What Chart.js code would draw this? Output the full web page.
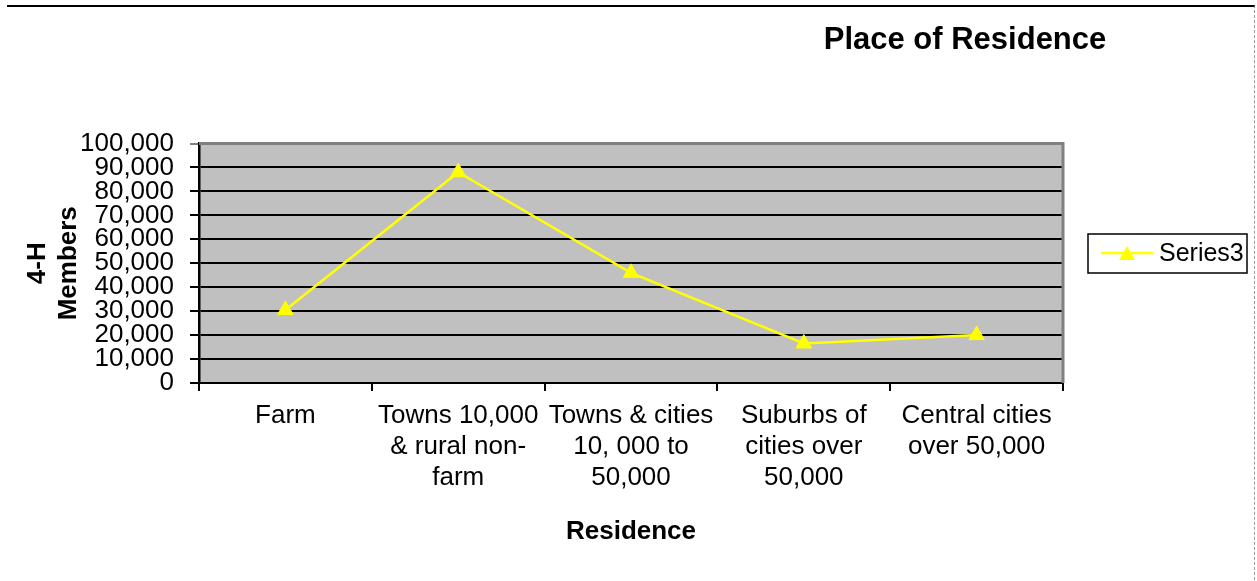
<!DOCTYPE html>
<html lang="en">
<head>
  <meta charset="UTF-8">
  <title>Place of Residence</title>
  <style>
    html, body { margin: 0; padding: 0; background: #fff; overflow: hidden; }
    .wrap { position: relative; width: 1257px; height: 581px; }
    .frame {
      position: absolute; left: 7px; top: 5px; width: 1248px; height: 580px;
      border-top: 2px solid #000; border-right: 1px dashed #999;
      box-sizing: border-box; pointer-events: none;
    }
    canvas { position: absolute; left: 0; top: 0; }
  </style>
</head>
<body>
  <div class="wrap">
    <canvas id="residenceChart"></canvas>
    <div class="frame"></div>
  </div>
  <script src="https://cdn.jsdelivr.net/npm/chart.js"></script>
  <script>
    // categories and values
    const residences = [
      'Farm',
      ['Towns 10,000', '& rural non-', 'farm'],
      ['Towns & cities', '10, 000 to', '50,000'],
      ['Suburbs of', 'cities over', '50,000'],
      ['Central cities', 'over 50,000']
    ];
    const members = [30500, 88000, 46000, 16500, 20000];
    const seriesName = 'Series3';
    const chartTitle = 'Place of Residence';
    const yTitle = ['4-H', 'Members'];
    const xTitle = 'Residence';

    const FONT = "Arial, 'Liberation Sans', sans-serif";
    const YELLOW = '#ffff00';

    // grey plot background + grey top/right edge, like the old Excel look
    const plotFrame = {
      id: 'plotFrame',
      beforeDraw(chart) {
        const { ctx, chartArea: a } = chart;
        ctx.save();
        ctx.fillStyle = '#c0c0c0';
        ctx.fillRect(a.left, a.top, a.right - a.left, a.bottom - a.top);
        ctx.restore();
      },
      beforeDatasetsDraw(chart) {
        const { ctx, chartArea: a } = chart;
        ctx.save();
        ctx.strokeStyle = '#808080';
        ctx.lineWidth = 3;
        ctx.beginPath();
        ctx.moveTo(a.left, a.top);
        ctx.lineTo(a.right, a.top);
        ctx.lineTo(a.right, a.bottom);
        ctx.stroke();
        ctx.restore();
      }
    };

    // title sits off to the right, and the legend has a box round it
    const titleAndLegend = {
      id: 'titleAndLegend',
      afterDraw(chart) {
        const ctx = chart.ctx;
        const ds = chart.data.datasets[0];
        ctx.save();
        ctx.fillStyle = '#000';
        ctx.font = 'bold 31px ' + FONT;
        ctx.textAlign = 'center';
        ctx.textBaseline = 'alphabetic';
        ctx.fillText(chartTitle, 965, 49);

        // legend box
        ctx.strokeStyle = '#000';
        ctx.lineWidth = 1.5;
        ctx.strokeRect(1088, 234, 159, 39);
        ctx.strokeStyle = ds.borderColor;
        ctx.lineWidth = 2.5;
        ctx.beginPath();
        ctx.moveTo(1101, 253);
        ctx.lineTo(1153, 253);
        ctx.stroke();
        ctx.fillStyle = ds.pointBackgroundColor;
        ctx.beginPath();
        ctx.moveTo(1127, 246);
        ctx.lineTo(1135, 260);
        ctx.lineTo(1119, 260);
        ctx.closePath();
        ctx.fill();
        ctx.fillStyle = '#000';
        ctx.font = '25px ' + FONT;
        ctx.textAlign = 'left';
        ctx.textBaseline = 'middle';
        ctx.fillText(ds.label, 1159, 254);
        ctx.restore();
      }
    };

    const ctx = document.getElementById('residenceChart').getContext('2d');
    new Chart(ctx, {
      type: 'line',
      data: {
        labels: residences,
        datasets: [{
          label: seriesName,
          data: members,
          borderColor: YELLOW,
          backgroundColor: YELLOW,
          borderWidth: 2.5,
          tension: 0,
          pointStyle: 'triangle',
          pointRadius: 9,
          pointBackgroundColor: YELLOW,
          pointBorderColor: YELLOW,
          pointBorderWidth: 1
        }]
      },
      options: {
        responsive: true,
        maintainAspectRatio: false,
        animation: false,
        layout: { padding: { top: 143.5, right: 194, bottom: 0, left: 0 } },
        plugins: {
          legend: { display: false },
          title: { display: false },
          tooltip: { enabled: false }
        },
        scales: {
          x: {
            offset: true,
            afterFit(scale) { scale.height = 198; },
            grid: {
              offset: true,
              drawOnChartArea: false,
              drawTicks: true,
              tickLength: 8,
              color: '#000',
              lineWidth: 2
            },
            border: { color: '#000', width: 2 },
            ticks: {
              color: '#000',
              padding: 9,
              maxRotation: 0,
              autoSkip: false,
              font: { family: FONT, size: 26, lineHeight: 1.2 }
            },
            title: {
              display: true,
              text: xTitle,
              color: '#000',
              font: { family: FONT, size: 26, weight: 'bold', lineHeight: 1.2 },
              padding: { top: 0, bottom: 34 }
            }
          },
          y: {
            min: 0,
            max: 100000,
            afterFit(scale) { scale.width = 199; },
            grid: {
              color: c => (c.tick && c.tick.value === 100000 ? '#808080' : '#000'),
              lineWidth: 2,
              tickLength: 9
            },
            border: { color: '#000', width: 2.5 },
            ticks: {
              stepSize: 10000,
              autoSkip: false,
              color: '#000',
              padding: 16,
              font: { family: FONT, size: 26 },
              callback: v => v.toLocaleString('en-US')
            },
            title: {
              display: true,
              text: yTitle,
              color: '#000',
              font: { family: FONT, size: 26, weight: 'bold', lineHeight: 1.17 },
              padding: { top: 23, bottom: 0 }
            }
          }
        }
      },
      plugins: [plotFrame, titleAndLegend]
    });
  </script>
</body>
</html>
